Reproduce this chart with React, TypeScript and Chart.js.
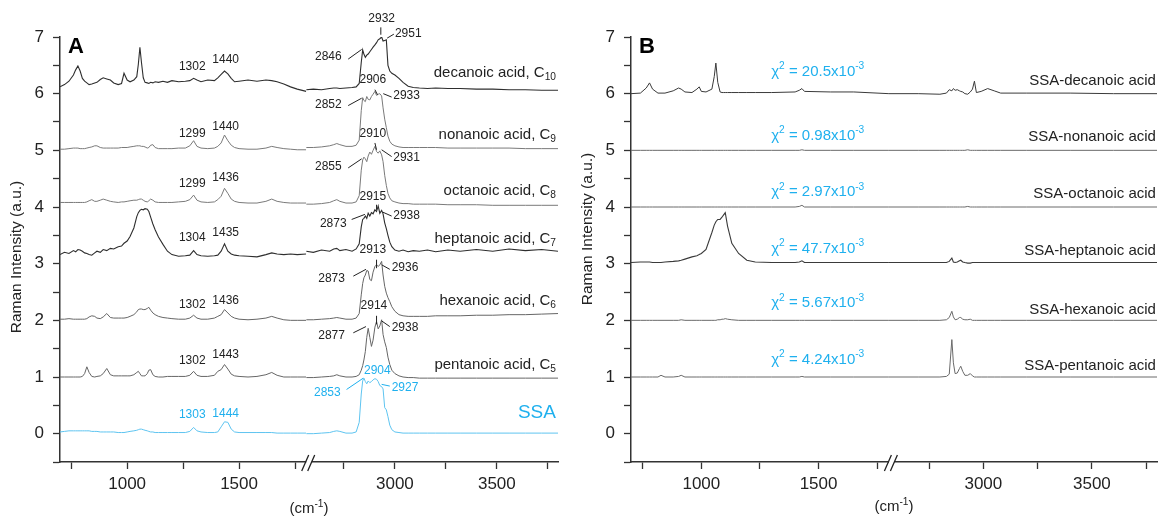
import React, { useEffect, useRef } from 'react';
import { Chart, registerables } from 'chart.js';

Chart.register(...registerables);

const FONT = "'Liberation Sans', Arial, Helvetica, sans-serif";
const DARK = '#222222';
const BLUE = '#1fb0ee';
const SSA_LINE = '#5ec4f0';

// ---------- axes ----------
const X1_RANGE = [700, 1800];
const X2_RANGE = [2565, 3800];
const X1_TICKS = [750, 1000, 1250, 1500, 1750];
const X2_TICKS = [2750, 3000, 3250, 3500, 3750];
const Y_TICKS = [-0.5, 0, 0.5, 1, 1.5, 2, 2.5, 3, 3.5, 4, 4.5, 5, 5.5, 6, 6.5, 7];

// ---------- panel A : wavenumbers ----------
const A_WN1 = [700, 720, 740, 760, 770, 780, 790, 800, 810, 820,
  830, 842, 855, 865, 880, 893, 909, 925, 940, 960,
  975, 986, 1000, 1013, 1030, 1043, 1050, 1057, 1064, 1072,
  1080, 1090, 1097, 1105, 1115, 1125, 1140, 1160, 1180, 1200,
  1230, 1260, 1280, 1297, 1312, 1330, 1360, 1390, 1405, 1420,
  1435, 1450, 1465, 1480, 1500, 1540, 1580, 1620, 1646, 1670,
  1700, 1730, 1760, 1800];
const A_WN2 = [2565, 2600, 2640, 2680, 2700, 2715, 2730, 2760, 2790, 2810,
  2825, 2835, 2842, 2848, 2855, 2862, 2869, 2877, 2885, 2893,
  2902, 2910, 2918, 2926, 2935, 2942, 2950, 2958, 2966, 2975,
  2985, 3000, 3020, 3040, 3065, 3090, 3120, 3160, 3200, 3260,
  3320, 3400, 3480, 3560, 3640, 3720, 3800];

// ---------- panel A : spectra (offset intensities) ----------
const A_DEC1 = [6.12, 6.16, 6.22, 6.33, 6.42, 6.49, 6.40, 6.27, 6.22, 6.19,
  6.16, 6.17, 6.19, 6.20, 6.25, 6.28, 6.26, 6.24, 6.19, 6.16,
  6.18, 6.36, 6.24, 6.21, 6.24, 6.30, 6.52, 6.82, 6.55, 6.28,
  6.20, 6.19, 6.18, 6.20, 6.19, 6.21, 6.20, 6.22, 6.20, 6.23,
  6.21, 6.22, 6.23, 6.27, 6.24, 6.21, 6.24, 6.23, 6.28, 6.34,
  6.40, 6.35, 6.27, 6.21, 6.22, 6.24, 6.22, 6.24, 6.23, 6.21,
  6.17, 6.12, 6.08, 6.04];
const A_NON1 = [5.02, 5.02, 5.03, 5.04, 5.04, 5.04, 5.03, 5.03, 5.03, 5.04,
  5.05, 5.06, 5.08, 5.08, 5.05, 5.04, 5.04, 5.04, 5.04, 5.04,
  5.05, 5.05, 5.05, 5.06, 5.07, 5.08, 5.08, 5.08, 5.07, 5.07,
  5.06, 5.04, 5.05, 5.09, 5.10, 5.05, 5.03, 5.03, 5.03, 5.03,
  5.04, 5.04, 5.08, 5.17, 5.07, 5.04, 5.03, 5.04, 5.07, 5.13,
  5.27, 5.17, 5.09, 5.05, 5.03, 5.02, 5.02, 5.04, 5.07, 5.05,
  5.03, 5.02, 5.01, 5.01];
const A_OCT1 = [4.08, 4.08, 4.08, 4.08, 4.08, 4.08, 4.08, 4.08, 4.08, 4.09,
  4.11, 4.13, 4.10, 4.10, 4.12, 4.14, 4.12, 4.10, 4.09, 4.08,
  4.09, 4.09, 4.10, 4.11, 4.12, 4.12, 4.13, 4.14, 4.14, 4.12,
  4.10, 4.09, 4.11, 4.14, 4.12, 4.09, 4.08, 4.08, 4.08, 4.08,
  4.09, 4.10, 4.13, 4.21, 4.12, 4.09, 4.08, 4.09, 4.13, 4.19,
  4.33, 4.24, 4.14, 4.10, 4.08, 4.07, 4.07, 4.10, 4.14, 4.10,
  4.08, 4.07, 4.07, 4.07];
const A_HEP1 = [3.16, 3.20, 3.18, 3.23, 3.21, 3.25, 3.24, 3.22, 3.19, 3.18,
  3.16, 3.15, 3.19, 3.22, 3.20, 3.25, 3.23, 3.27, 3.26, 3.30,
  3.31, 3.36, 3.40, 3.48, 3.63, 3.83, 3.90, 3.94, 3.96, 3.95,
  3.97, 3.96, 3.92, 3.82, 3.70, 3.60, 3.47, 3.34, 3.22, 3.16,
  3.13, 3.14, 3.15, 3.23, 3.16, 3.14, 3.13, 3.14, 3.15, 3.22,
  3.35, 3.22, 3.17, 3.15, 3.14, 3.13, 3.12, 3.16, 3.19, 3.17,
  3.16, 3.17, 3.16, 3.17];
const A_HEX1 = [2.02, 2.02, 2.03, 2.02, 2.02, 2.02, 2.02, 2.02, 2.02, 2.03,
  2.06, 2.08, 2.07, 2.04, 2.03, 2.06, 2.12, 2.05, 2.04, 2.04,
  2.04, 2.04, 2.05, 2.07, 2.10, 2.15, 2.19, 2.20, 2.20, 2.19,
  2.19, 2.21, 2.23, 2.18, 2.13, 2.10, 2.07, 2.05, 2.04, 2.03,
  2.02, 2.02, 2.04, 2.09, 2.04, 2.02, 2.02, 2.04, 2.07, 2.10,
  2.19, 2.13, 2.07, 2.04, 2.02, 2.01, 2.02, 2.04, 2.07, 2.04,
  2.01, 2.00, 2.00, 2.00];
const A_PEN1 = [1.00, 1.00, 1.00, 1.00, 1.00, 1.00, 1.00, 1.01, 1.06, 1.18,
  1.08, 1.01, 1.00, 1.01, 1.02, 1.06, 1.15, 1.04, 1.02, 1.02,
  1.02, 1.02, 1.02, 1.02, 1.04, 1.08, 1.10, 1.06, 1.02, 1.02,
  1.02, 1.06, 1.12, 1.13, 1.04, 1.01, 1.00, 1.00, 1.01, 1.01,
  1.01, 1.01, 1.03, 1.10, 1.03, 1.01, 1.01, 1.03, 1.10, 1.13,
  1.22, 1.14, 1.05, 1.02, 1.01, 1.00, 1.01, 1.04, 1.08, 1.03,
  1.00, 1.00, 1.00, 1.00];
const A_SSA1 = [0.03, 0.04, 0.05, 0.05, 0.05, 0.05, 0.05, 0.05, 0.05, 0.05,
  0.05, 0.04, 0.04, 0.04, 0.03, 0.03, 0.03, 0.03, 0.03, 0.02,
  0.02, 0.02, 0.03, 0.04, 0.05, 0.06, 0.07, 0.08, 0.08, 0.07,
  0.06, 0.05, 0.04, 0.03, 0.03, 0.02, 0.02, 0.02, 0.02, 0.02,
  0.02, 0.02, 0.04, 0.11, 0.05, 0.03, 0.02, 0.02, 0.03, 0.12,
  0.21, 0.20, 0.08, 0.03, 0.02, 0.02, 0.02, 0.02, 0.02, 0.01,
  0.01, 0.01, 0.01, 0.01];

const A_DEC2 = [6.07, 6.08, 6.07, 6.09, 6.10, 6.10, 6.09, 6.10, 6.11, 6.12,
  6.18, 6.55, 6.77, 6.70, 6.64, 6.68, 6.70, 6.74, 6.78, 6.82,
  6.86, 6.90, 6.95, 6.97, 7.00, 6.93, 6.94, 6.95, 6.50, 6.40,
  6.36, 6.33, 6.27, 6.20, 6.13, 6.11, 6.10, 6.09, 6.10, 6.09,
  6.09, 6.08, 6.08, 6.07, 6.07, 6.06, 6.06];
const A_NON2 = [5.05, 5.05, 5.06, 5.08, 5.10, 5.12, 5.10, 5.07, 5.07, 5.09,
  5.18, 5.70, 5.93, 5.88, 5.86, 5.95, 5.90, 5.89, 5.95, 5.99,
  6.04, 5.97, 5.99, 6.00, 5.96, 5.75, 5.55, 5.40, 5.25, 5.16,
  5.11, 5.08, 5.06, 5.05, 5.05, 5.05, 5.05, 5.05, 5.05, 5.04,
  5.04, 5.04, 5.04, 5.04, 5.03, 5.03, 5.03];
const A_OCT2 = [4.05, 4.05, 4.06, 4.08, 4.11, 4.13, 4.10, 4.07, 4.07, 4.09,
  4.20, 4.65, 4.83, 4.88, 4.85, 4.80, 4.90, 4.97, 4.93, 5.00,
  5.07, 4.98, 4.95, 4.99, 4.92, 4.80, 4.56, 4.38, 4.24, 4.16,
  4.11, 4.09, 4.07, 4.06, 4.06, 4.05, 4.05, 4.05, 4.05, 4.04,
  4.04, 4.04, 4.03, 4.03, 4.03, 4.03, 4.03];
const A_HEP2 = [3.22, 3.20, 3.24, 3.22, 3.26, 3.27, 3.23, 3.25, 3.22, 3.26,
  3.35, 3.65, 3.78, 3.80, 3.84, 3.80, 3.89, 3.84, 3.90, 3.88,
  3.95, 3.92, 4.02, 3.89, 3.94, 3.88, 3.72, 3.62, 3.50, 3.38,
  3.30, 3.24, 3.22, 3.24, 3.21, 3.23, 3.22, 3.24, 3.21, 3.24,
  3.22, 3.25, 3.22, 3.26, 3.23, 3.25, 3.22];
const A_HEX2 = [2.01, 2.01, 2.02, 2.03, 2.04, 2.05, 2.04, 2.02, 2.02, 2.04,
  2.12, 2.45, 2.65, 2.75, 2.80, 2.88, 2.87, 2.72, 2.70, 2.85,
  2.95, 2.98, 2.95, 2.98, 3.04, 2.80, 2.60, 2.48, 2.40, 2.33,
  2.24, 2.16, 2.10, 2.08, 2.07, 2.07, 2.07, 2.07, 2.08, 2.08,
  2.08, 2.09, 2.09, 2.10, 2.10, 2.11, 2.12];
const A_PEN2 = [0.99, 0.99, 1.00, 1.01, 1.02, 1.04, 1.02, 1.00, 1.00, 1.01,
  1.04, 1.12, 1.20, 1.30, 1.45, 1.70, 1.86, 1.70, 1.54, 1.65,
  1.88, 1.98, 1.85, 1.90, 2.01, 1.75, 1.62, 1.52, 1.35, 1.22,
  1.12, 1.06, 1.02, 1.00, 0.99, 0.99, 0.98, 0.98, 0.98, 0.98,
  0.98, 0.98, 0.98, 0.98, 0.98, 0.98, 0.98];
const A_SSA2 = [0.00, 0.00, 0.01, 0.02, 0.04, 0.05, 0.04, 0.01, 0.01, 0.03,
  0.20, 0.70, 0.93, 0.98, 0.92, 0.88, 0.93, 0.90, 0.92, 0.95,
  0.97, 0.96, 0.92, 0.85, 0.83, 0.79, 0.46, 0.42, 0.30, 0.15,
  0.07, 0.03, 0.02, 0.01, 0.01, 0.01, 0.01, 0.01, 0.01, 0.01,
  0.01, 0.01, 0.01, 0.01, 0.01, 0.01, 0.01];

// ---------- panel B : wavenumbers ----------
const B_WN1 = [700, 740, 765, 779, 792, 815, 828, 845, 880, 903,
  914, 930, 960, 981, 991, 1000, 1020, 1045, 1055, 1062,
  1070, 1080, 1088, 1095, 1102, 1112, 1130, 1159, 1194, 1230,
  1300, 1400, 1418, 1429, 1440, 1550, 1650, 1800];
const B_WN2 = [2565, 2700, 2800, 2830, 2843, 2855, 2862, 2870, 2880, 2890,
  2896, 2905, 2915, 2928, 2940, 2950, 2959, 2968, 2990, 3020,
  3050, 3080, 3200, 3400, 3600, 3800];

// ---------- panel B : residual spectra ----------
const B_DEC1 = [6.00, 6.01, 6.10, 6.19, 6.08, 6.01, 6.01, 6.01, 6.05, 6.10,
  6.08, 6.03, 6.02, 6.08, 6.12, 6.04, 6.03, 6.08, 6.30, 6.54,
  6.20, 6.03, 6.02, 6.02, 6.02, 6.02, 6.02, 6.02, 6.02, 6.02,
  6.02, 6.03, 6.06, 6.09, 6.04, 6.03, 6.03, 6.00];
const B_NON1 = [5.00, 5.00, 5.00, 5.00, 5.00, 5.00, 5.00, 5.00, 5.00, 5.00,
  5.00, 5.00, 5.00, 5.00, 5.00, 5.00, 5.00, 5.00, 5.00, 5.00,
  5.00, 5.00, 5.00, 5.00, 5.00, 5.00, 5.00, 5.00, 5.00, 5.00,
  5.00, 5.00, 5.00, 5.01, 5.00, 5.00, 5.00, 5.00];
const B_OCT1 = [4.00, 4.00, 4.00, 4.00, 4.00, 4.00, 4.00, 4.00, 4.00, 4.00,
  4.00, 4.00, 4.00, 4.00, 4.00, 4.00, 4.00, 4.00, 4.00, 4.00,
  4.00, 4.00, 4.00, 4.00, 4.00, 4.00, 4.00, 4.00, 4.00, 4.00,
  4.00, 4.00, 4.01, 4.03, 4.00, 4.00, 4.00, 4.00];
const B_HEP1 = [3.02, 3.03, 3.03, 3.03, 3.02, 3.02, 3.02, 3.03, 3.04, 3.05,
  3.06, 3.08, 3.12, 3.14, 3.16, 3.18, 3.25, 3.55, 3.68, 3.74,
  3.78, 3.78, 3.82, 3.86, 3.90, 3.66, 3.36, 3.18, 3.06, 3.03,
  3.02, 3.02, 3.03, 3.05, 3.02, 3.02, 3.02, 3.02];
const B_HEX1 = [2.00, 2.00, 2.00, 2.00, 2.00, 2.00, 2.00, 2.00, 2.00, 2.00,
  2.01, 2.00, 2.00, 2.00, 2.00, 2.00, 2.00, 2.00, 2.00, 2.00,
  2.01, 2.01, 2.02, 2.02, 2.03, 2.02, 2.01, 2.00, 2.00, 2.00,
  2.00, 2.00, 2.00, 2.00, 2.00, 2.00, 2.00, 2.00];
const B_PEN1 = [1.00, 1.00, 1.00, 1.00, 1.00, 1.00, 1.03, 1.00, 1.00, 1.01,
  1.03, 1.00, 1.00, 1.00, 1.00, 1.00, 1.00, 1.00, 1.00, 1.00,
  1.00, 1.00, 1.00, 1.00, 1.00, 1.00, 1.00, 1.00, 1.00, 1.00,
  1.00, 1.00, 1.00, 1.01, 1.00, 1.00, 1.00, 1.00];

const B_DEC2 = [6.00, 6.00, 5.99, 6.01, 6.07, 6.05, 6.09, 6.06, 6.07, 6.05,
  6.04, 6.03, 6.00, 5.99, 6.03, 6.08, 6.22, 6.02, 6.04, 6.09,
  6.05, 6.01, 6.01, 6.01, 6.00, 6.00];
const B_NON2 = [5.00, 5.00, 5.00, 5.00, 5.00, 5.00, 5.00, 5.00, 5.00, 5.00,
  5.00, 5.00, 5.00, 5.01, 5.00, 5.00, 5.00, 5.00, 5.00, 5.00,
  5.00, 5.00, 5.00, 5.00, 5.00, 5.00];
const B_OCT2 = [4.00, 4.00, 4.00, 4.00, 4.00, 4.00, 4.00, 4.00, 4.00, 4.00,
  4.00, 4.00, 4.00, 4.01, 4.00, 4.00, 4.00, 4.00, 4.00, 4.00,
  4.00, 4.00, 4.00, 4.00, 4.00, 4.00];
const B_HEP2 = [3.02, 3.02, 3.02, 3.02, 3.04, 3.10, 3.03, 3.02, 3.03, 3.05,
  3.06, 3.03, 3.02, 3.01, 3.01, 3.02, 3.02, 3.02, 3.02, 3.02,
  3.02, 3.02, 3.02, 3.02, 3.02, 3.02];
const B_HEX2 = [2.00, 2.00, 2.00, 2.01, 2.05, 2.16, 2.06, 2.01, 2.02, 2.05,
  2.05, 2.02, 2.01, 2.01, 2.02, 2.00, 2.00, 2.00, 2.00, 2.00,
  2.00, 2.00, 2.00, 2.00, 2.00, 2.00];
const B_PEN2 = [1.00, 1.00, 1.00, 1.01, 1.05, 1.66, 1.25, 1.06, 1.07, 1.15,
  1.19, 1.10, 1.03, 1.03, 1.06, 1.02, 1.00, 1.00, 1.00, 1.00,
  1.00, 1.00, 1.00, 1.00, 1.00, 1.00];

// ---------- annotations (text, wavenumber, intensity) ----------
const A_LOW_LABELS: [string, number, number][] = [
  ['1302', 1291, 6.48], ['1440', 1440, 6.60],
  ['1299', 1291, 5.30], ['1440', 1440, 5.42],
  ['1299', 1291, 4.41], ['1436', 1440, 4.51],
  ['1304', 1291, 3.45], ['1435', 1440, 3.54],
  ['1302', 1291, 2.28], ['1436', 1440, 2.34],
  ['1302', 1291, 1.28], ['1443', 1440, 1.40],
];
const A_LOW_LABELS_SSA: [string, number, number][] = [['1303', 1291, 0.34], ['1444', 1440, 0.36]];
const A_HIGH_LABELS: [string, number, number, string][] = [
  ['2932', 2935, 7.33, 'center'], ['2951', 3000, 7.05, 'left'], ['2846', 2739, 6.66, 'right'],
  ['2906', 2892, 6.24, 'center'], ['2933', 2992, 5.96, 'left'], ['2852', 2739, 5.81, 'right'],
  ['2910', 2892, 5.30, 'center'], ['2931', 2992, 4.87, 'left'], ['2855', 2739, 4.72, 'right'],
  ['2915', 2892, 4.19, 'center'], ['2938', 2992, 3.85, 'left'], ['2873', 2763, 3.71, 'right'],
  ['2913', 2892, 3.25, 'center'], ['2936', 2984, 2.93, 'left'], ['2873', 2755, 2.73, 'right'],
  ['2914', 2897, 2.25, 'center'], ['2938', 2984, 1.87, 'left'], ['2877', 2755, 1.73, 'right'],
];
const A_HIGH_LABELS_SSA: [string, number, number, string][] = [
  ['2904', 2914, 1.12, 'center'], ['2927', 2984, 0.82, 'left'], ['2853', 2734, 0.72, 'right'],
];
const A_LEADERS: [number, number, number, number][] = [
  [2931, 7.17, 2931, 7.04], [2962, 6.98, 2995, 7.05], [2771, 6.61, 2837, 6.78],
  [2902, 6.07, 2915, 5.98], [2943, 6.00, 2984, 5.94], [2771, 5.79, 2837, 5.92],
  [2902, 5.13, 2910, 5.01], [2935, 5.01, 2984, 4.89], [2771, 4.69, 2837, 4.85],
  [2910, 4.04, 2910, 3.95], [2940, 3.91, 2984, 3.84], [2788, 3.78, 2853, 3.87],
  [2910, 3.07, 2910, 2.92], [2935, 2.98, 2975, 2.90], [2796, 2.78, 2858, 2.90],
  [2910, 2.08, 2910, 1.93], [2935, 1.99, 2975, 1.89], [2796, 1.78, 2858, 1.89],
];
const A_LEADERS_SSA: [number, number, number, number][] = [[2935, 0.87, 2975, 0.84], [2763, 0.78, 2845, 0.98]];
const A_NAMES: [string, string, number][] = [
  ['decanoic acid, C', '10', 6.37], ['nonanoic acid, C', '9', 5.28], ['octanoic acid, C', '8', 4.28],
  ['heptanoic acid, C', '7', 3.44], ['hexanoic acid, C', '6', 2.34], ['pentanoic acid, C', '5', 1.22],
];
const A_SSA_NAME: [string, number] = ['SSA', 0.37];
const B_NAMES: [string, number][] = [
  ['SSA-decanoic acid', 6.23], ['SSA-nonanoic acid', 5.23], ['SSA-octanoic acid', 4.24],
  ['SSA-heptanoic acid', 3.23], ['SSA-hexanoic acid', 2.19], ['SSA-pentanoic acid', 1.2],
];
const B_CHI: [string, number][] = [['20.5', 6.39], ['0.98', 5.26], ['2.97', 4.26], ['47.7', 3.27], ['5.67', 2.30], ['4.24', 1.31]];

// ---------- helpers ----------
type Part = { t: string; s?: 'sup' | 'sub' };

function drawRich(ctx: CanvasRenderingContext2D, parts: Part[], x: number, y: number, align: string, size: number, color: string, weight = 'normal') {
  const small = size * 0.68;
  ctx.save();
  ctx.fillStyle = color;
  ctx.textBaseline = 'middle';
  ctx.textAlign = 'left';
  const widths = parts.map((p) => {
    ctx.font = `${weight} ${p.s ? small : size}px ${FONT}`;
    return ctx.measureText(p.t).width;
  });
  const total = widths.reduce((a, b) => a + b, 0);
  let cx = align === 'left' ? x : align === 'right' ? x - total : x - total / 2;
  parts.forEach((p, i) => {
    ctx.font = `${weight} ${p.s ? small : size}px ${FONT}`;
    const dy = p.s === 'sup' ? -size * 0.33 : p.s === 'sub' ? size * 0.3 : 0;
    ctx.fillText(p.t, cx, y + dy);
    cx += widths[i];
  });
  ctx.restore();
}

function series(xs: number[], ys: number[]) {
  return xs.map((x, i) => ({ x, y: ys[i] }));
}

function ds(xs: number[], ys: number[], axis: string, color: string, width: number) {
  return {
    data: series(xs, ys), xAxisID: axis, yAxisID: 'y', borderColor: color, borderWidth: width,
    pointRadius: 0, tension: 0, fill: false,
  };
}

function makeScales(w1: number, w2: number, yWidth: number) {
  const tickFont = { family: FONT, size: 17 };
  const xAxis = (range: number[], ticks: number[], weight: number) => ({
    type: 'linear', position: 'bottom', stack: 'wn', stackWeight: weight,
    min: range[0], max: range[1],
    afterBuildTicks: (s: any) => { s.ticks = ticks.map((v) => ({ value: v })); },
    afterFit: (s: any) => { s.height = 56; },
    ticks: {
      autoSkip: false, maxRotation: 0, minRotation: 0, padding: 5, color: DARK, font: tickFont,
      callback: (v: number) => (v % 500 === 0 ? String(v) : ''),
    },
    grid: { drawOnChartArea: false, drawTicks: true, tickLength: 7, color: '#333', tickWidth: 1.3 },
    border: { display: true, color: '#333', width: 1.5 },
  });
  return {
    x1: xAxis(X1_RANGE, X1_TICKS, w1),
    x2: xAxis(X2_RANGE, X2_TICKS, w2),
    y: {
      type: 'linear', position: 'left', min: -0.5, max: 7,
      afterBuildTicks: (s: any) => { s.ticks = Y_TICKS.map((v) => ({ value: v })); },
      afterFit: (s: any) => { s.width = yWidth; },
      ticks: {
        autoSkip: false, padding: 9, color: DARK, font: tickFont,
        callback: (v: number) => (Number.isInteger(v) ? String(v) : ''),
      },
      grid: { drawOnChartArea: false, drawTicks: true, tickLength: 7, color: '#333', tickWidth: 1.3 },
      border: { display: true, color: '#333', width: 1.5 },
    },
  };
}

function drawCommon(chart: any, letter: string, letterX: number, yTitleX: number, yTitleY: number, xTitleY: number) {
  const ctx: CanvasRenderingContext2D = chart.ctx;
  const sx1 = chart.scales.x1;
  const ca = chart.chartArea;
  // axis break
  const b = sx1.right + 3;
  const yb = sx1.top;
  ctx.save();
  ctx.fillStyle = '#ffffff';
  ctx.fillRect(b - 3, yb - 2.5, 5.5, 5);
  ctx.strokeStyle = '#222';
  ctx.lineWidth = 1.3;
  ctx.beginPath();
  ctx.moveTo(b - 7.5, yb + 9); ctx.lineTo(b - 0.5, yb - 7);
  ctx.moveTo(b - 1.5, yb + 9); ctx.lineTo(b + 5.5, yb - 7);
  ctx.stroke();
  // y title
  ctx.translate(yTitleX, yTitleY);
  ctx.rotate(-Math.PI / 2);
  ctx.font = `15.5px ${FONT}`;
  ctx.fillStyle = DARK;
  ctx.textAlign = 'center';
  ctx.textBaseline = 'middle';
  ctx.fillText('Raman Intensity (a.u.)', 0, 0);
  ctx.restore();
  // x title
  drawRich(ctx, [{ t: '(cm' }, { t: '-1', s: 'sup' }, { t: ')' }], (ca.left + ca.right) / 2, xTitleY, 'center', 15, DARK);
  // panel letter
  ctx.save();
  ctx.font = `bold 22px ${FONT}`;
  ctx.fillStyle = '#000';
  ctx.textAlign = 'left';
  ctx.textBaseline = 'alphabetic';
  ctx.fillText(letter, letterX, 53);
  ctx.restore();
}

const overlayA = {
  id: 'overlayA',
  afterDraw(chart: any) {
    const ctx: CanvasRenderingContext2D = chart.ctx;
    const sx1 = chart.scales.x1, sx2 = chart.scales.x2, sy = chart.scales.y;
    drawCommon(chart, 'A', 68, 16.5, 257, 509);
    A_LOW_LABELS.forEach(([t, x, y]) => drawRich(ctx, [{ t }], sx1.getPixelForValue(x), sy.getPixelForValue(y), 'center', 12, DARK));
    A_LOW_LABELS_SSA.forEach(([t, x, y]) => drawRich(ctx, [{ t }], sx1.getPixelForValue(x), sy.getPixelForValue(y), 'center', 12, BLUE));
    A_HIGH_LABELS.forEach(([t, x, y, al]) => drawRich(ctx, [{ t }], sx2.getPixelForValue(x), sy.getPixelForValue(y), al, 12, DARK));
    A_HIGH_LABELS_SSA.forEach(([t, x, y, al]) => drawRich(ctx, [{ t }], sx2.getPixelForValue(x), sy.getPixelForValue(y), al, 12, BLUE));
    const lead = (arr: [number, number, number, number][], col: string) => {
      ctx.save();
      ctx.strokeStyle = col;
      ctx.lineWidth = 1;
      ctx.beginPath();
      arr.forEach(([a, b, c, d]) => {
        ctx.moveTo(sx2.getPixelForValue(a), sy.getPixelForValue(b));
        ctx.lineTo(sx2.getPixelForValue(c), sy.getPixelForValue(d));
      });
      ctx.stroke();
      ctx.restore();
    };
    lead(A_LEADERS, DARK);
    lead(A_LEADERS_SSA, BLUE);
    A_NAMES.forEach(([t, sub, y]) => drawRich(ctx, [{ t }, { t: sub, s: 'sub' }], sx2.getPixelForValue(3790), sy.getPixelForValue(y), 'right', 15, DARK));
    drawRich(ctx, [{ t: A_SSA_NAME[0] }], sx2.getPixelForValue(3790), sy.getPixelForValue(A_SSA_NAME[1]), 'right', 19, BLUE);
  },
};

const overlayB = {
  id: 'overlayB',
  afterDraw(chart: any) {
    const ctx: CanvasRenderingContext2D = chart.ctx;
    const sx1 = chart.scales.x1, sx2 = chart.scales.x2, sy = chart.scales.y;
    drawCommon(chart, 'B', 59, 7.5, 229, 507);
    B_NAMES.forEach(([t, y]) => drawRich(ctx, [{ t }], sx2.getPixelForValue(3795), sy.getPixelForValue(y), 'right', 15, DARK));
    B_CHI.forEach(([v, y]) => drawRich(ctx, [{ t: 'χ' }, { t: '2', s: 'sup' }, { t: ` = ${v}x10` }, { t: '-3', s: 'sup' }], sx1.getPixelForValue(1298), sy.getPixelForValue(y), 'left', 15, BLUE));
  },
};

function configA() {
  const GRAY = '#7a7a7a', GRAY2 = '#666666', NOISY = '#2e2e2e';
  return {
    type: 'line',
    data: {
      datasets: [
        ds(A_WN1, A_DEC1, 'x1', NOISY, 1.1), ds(A_WN2, A_DEC2, 'x2', NOISY, 1.1),
        ds(A_WN1, A_NON1, 'x1', GRAY, 1), ds(A_WN2, A_NON2, 'x2', GRAY, 1),
        ds(A_WN1, A_OCT1, 'x1', GRAY, 1), ds(A_WN2, A_OCT2, 'x2', GRAY, 1),
        ds(A_WN1, A_HEP1, 'x1', NOISY, 1.1), ds(A_WN2, A_HEP2, 'x2', NOISY, 1.1),
        ds(A_WN1, A_HEX1, 'x1', GRAY2, 1), ds(A_WN2, A_HEX2, 'x2', GRAY2, 1),
        ds(A_WN1, A_PEN1, 'x1', GRAY2, 1), ds(A_WN2, A_PEN2, 'x2', GRAY2, 1),
        ds(A_WN1, A_SSA1, 'x1', SSA_LINE, 1), ds(A_WN2, A_SSA2, 'x2', SSA_LINE, 1),
      ],
    },
    options: {
      animation: false, responsive: false, maintainAspectRatio: false,
      layout: { padding: { top: 37, right: 22, left: 0, bottom: 0 } },
      plugins: { legend: { display: false }, tooltip: { enabled: false } },
      scales: makeScales(246.4, 252, 60),
    },
    plugins: [overlayA],
  };
}

function configB() {
  const G = '#6a6a6a', D = '#3a3a3a';
  return {
    type: 'line',
    data: {
      datasets: [
        ds(B_WN1, B_DEC1, 'x1', D, 1), ds(B_WN2, B_DEC2, 'x2', D, 1),
        ds(B_WN1, B_NON1, 'x1', G, 1), ds(B_WN2, B_NON2, 'x2', G, 1),
        ds(B_WN1, B_OCT1, 'x1', G, 1), ds(B_WN2, B_OCT2, 'x2', G, 1),
        ds(B_WN1, B_HEP1, 'x1', D, 1.1), ds(B_WN2, B_HEP2, 'x2', D, 1.1),
        ds(B_WN1, B_HEX1, 'x1', G, 1), ds(B_WN2, B_HEX2, 'x2', G, 1),
        ds(B_WN1, B_PEN1, 'x1', G, 1), ds(B_WN2, B_PEN2, 'x2', G, 1),
      ],
    },
    options: {
      animation: false, responsive: false, maintainAspectRatio: false,
      layout: { padding: { top: 37, right: 3, left: 0, bottom: 0 } },
      plugins: { legend: { display: false }, tooltip: { enabled: false } },
      scales: makeScales(258.2, 268.4, 51),
    },
    plugins: [overlayB],
  };
}

function PanelCanvas({ left, build }: { left: number; build: () => any }) {
  const ref = useRef<HTMLCanvasElement | null>(null);
  useEffect(() => {
    if (!ref.current) return;
    const chart = new Chart(ref.current, build());
    return () => chart.destroy();
  }, [build]);
  return (
    <canvas
      ref={ref}
      width={580}
      height={518}
      style={{ position: 'absolute', left, top: 0, width: 580, height: 518 }}
    />
  );
}

export default function App() {
  return (
    <div style={{ position: 'absolute', left: 0, top: 0, width: 1160, height: 518, background: '#ffffff', overflow: 'hidden' }}>
      <PanelCanvas left={0} build={configA} />
      <PanelCanvas left={580} build={configB} />
    </div>
  );
}
